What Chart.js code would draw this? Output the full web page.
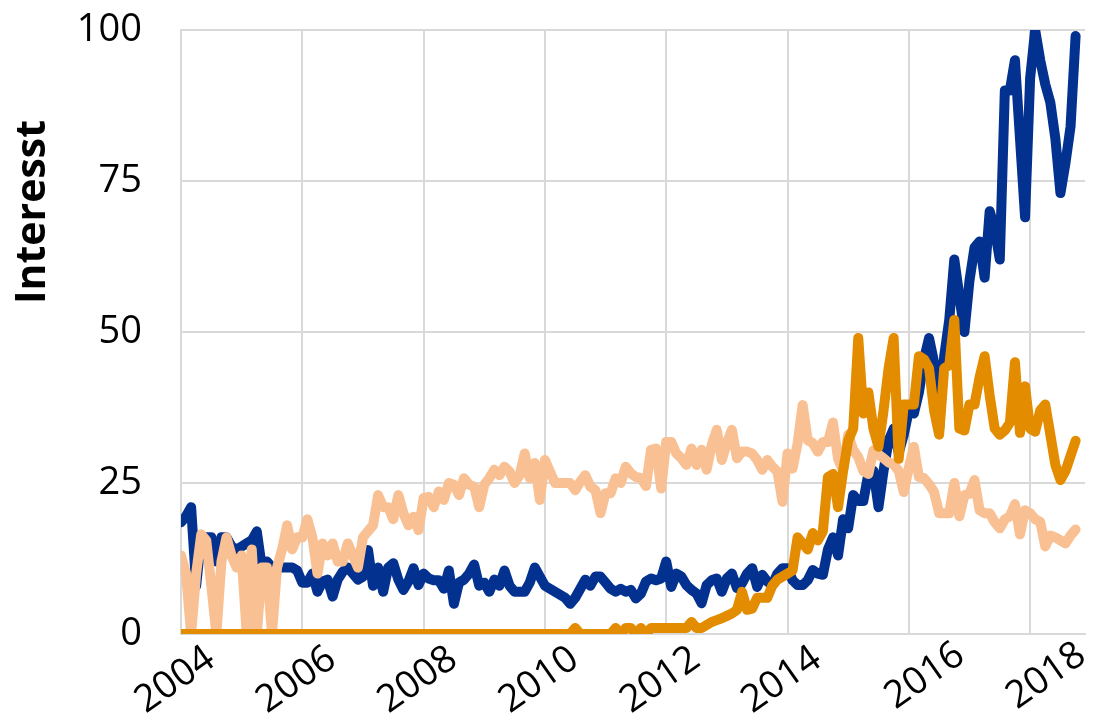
<!DOCTYPE html>
<html>
<head>
<meta charset="utf-8">
<script src="https://cdn.jsdelivr.net/npm/chart.js@4.4.1/dist/chart.umd.min.js"></script>
<style>
  html, body { margin: 0; padding: 0; background: #fff; }
  #wrap { width: 1095px; height: 720px; }
</style>
</head>
<body>
<div id="wrap"><canvas id="trendChart"></canvas></div>
<script>
// Monthly values, first value = Jan 2004
var startYear = 2004;
var yearTicks = [2004, 2006, 2008, 2010, 2012, 2014, 2016, 2018];
var valueTicks = [0, 25, 50, 75, 100];
var yTitle = 'Interesst';

var blueSeries = [
  18.5, 19.5, 21, 8, 16, 16, 16, 12, 16, 16, 14.5, 14,
  14.5, 15, 15.5, 17, 11, 12, 11, 11, 11, 11, 11, 10.5,
  8.5, 8.5, 10, 7, 8.7, 9, 6.2, 9, 10.3, 11, 10, 9,
  9.5, 13.9, 8, 11, 7, 11, 11.7, 9, 7.3, 8.7, 10.9, 8.1,
  10, 9.2, 8.9, 8.9, 7.5, 10.5, 5, 8.5, 9, 10, 11.5, 8,
  8.5, 7, 9, 8, 10.5, 8, 7, 7, 7, 8.5, 11, 9.5,
  8, 7.5, 7, 6.5, 6, 5, 6, 7.5, 9, 8, 9.5, 9.5,
  8.5, 7.5, 7, 7.5, 7, 7.3, 5.9, 6.7, 8.7, 9.2, 8.9, 9.2,
  12, 7.8, 10, 9.5, 8.1, 7.3, 6.7, 5.1, 8.1, 8.9, 9.2, 7,
  9.2, 10, 7.6, 8.4, 10, 10.9, 7.8, 9.8, 8.7, 8.1, 10, 10.9,
  10.9, 8.9, 8.1, 8.1, 8.9, 10.6, 10, 9.8, 14, 16, 13, 19,
  17.5, 23, 22, 22, 26.5, 27, 21, 27, 32, 34, 30, 33,
  37, 36.5, 40, 45.5, 49, 45, 34, 46, 52, 62, 56, 50,
  58.5, 64, 65, 59, 70, 67, 62, 90, 90, 95, 82, 69,
  92, 100, 95, 91, 88, 82, 73, 78, 84, 99
];

var orangeSeries = [
  0, 0, 0, 0, 0, 0, 0, 0, 0, 0, 0, 0,
  0, 0, 0, 0, 0, 0, 0, 0, 0, 0, 0, 0,
  0, 0, 0, 0, 0, 0, 0, 0, 0, 0, 0, 0,
  0, 0, 0, 0, 0, 0, 0, 0, 0, 0, 0, 0,
  0, 0, 0, 0, 0, 0, 0, 0, 0, 0, 0, 0,
  0, 0, 0, 0, 0, 0, 0, 0, 0, 0, 0, 0,
  0, 0, 0, 0, 0, 0, 1, 0, 0, 0, 0, 0,
  0, 0, 1, 0, 1, 1, 0, 1, 0, 1, 1, 1,
  1, 1, 1, 1, 1, 2, 1, 1, 1.5, 2, 2.3, 2.6,
  3, 3.4, 4, 7, 4, 4.2, 6, 6, 6, 8, 9, 9.5,
  10, 10.5, 16, 15, 14, 16.7, 15.5, 17, 26, 26.5, 21, 27,
  32, 34, 49, 36.5, 40, 34, 31, 37, 44, 49, 29, 38,
  38, 38, 46, 45.5, 44, 37, 33, 44, 44.5, 52, 34, 33.7,
  38, 38, 42.5, 46, 39.5, 34, 33, 33.7, 35, 45, 33.3, 41,
  34, 33.5, 37, 38, 33, 28, 25.5, 27, 29.5, 32
];

var peachSeries = [
  13, 10, 0, 10, 16.5, 15.5, 8, 0, 12, 16, 13, 11,
  13, 0, 14, 0, 11, 11, 0, 11, 14, 18, 14, 16,
  16, 19, 16, 10, 15, 13, 15, 12, 12, 15, 13, 11,
  16, 17, 18, 23, 21, 21, 19, 23, 20, 18, 19.4, 17.2,
  22.5, 22.7, 21, 23.6, 22.2, 25, 24.7, 23, 25.8, 24.7, 24.4, 21,
  24.7, 25.8, 27.2, 26.3, 27.7, 26.9, 25, 26.3, 29.9, 25.8, 28.3, 22.2,
  28.8, 26.9, 25, 25, 25, 25, 23.8, 25.2, 26.3, 24.4, 23.8, 20,
  23.3, 23.3, 25.8, 25, 27.7, 26.6, 26, 25.8, 24.5, 30.5, 30.7, 24.1,
  31.8, 31.8, 29.9, 29.1, 28, 30.7, 28, 30.5, 27.2, 31.3, 33.8, 28.8,
  31.6, 33.8, 29.1, 30.2, 30.2, 29.9, 28.8, 27.2, 28.8, 27.7, 26.9, 21.9,
  29.9, 27.4, 31.6, 37.9, 32.1, 31.6, 30.2, 31.8, 31.8, 35, 29, 27,
  33, 30.5, 29.3, 27, 26.5, 30.4, 29.7, 29.1, 28.4, 28.1, 27, 23.5,
  27.5, 31, 26, 25.8, 24.8, 23.5, 20, 20, 20, 25, 19.5, 23,
  23.2, 25.5, 20.5, 20, 20, 18.5, 17.5, 19, 19.5, 21.5, 16.5, 20.5,
  20, 19, 18.6, 14.5, 16.3, 16, 15.5, 15, 16.3, 17.3
];

function toPoints(values) {
  return values.map(function (v, i) {
    return { x: startYear + i / 12, y: v };
  });
}

var gridColor = '#d9d9d9';

// rotated year labels and the vertical axis title
var axisText = {
  id: 'axisText',
  afterDraw: function (chart) {
    var ctx = chart.ctx;
    var xs = chart.scales.x;
    ctx.save();
    ctx.fillStyle = '#000';
    ctx.font = '38px "Open Sans"';
    ctx.textAlign = 'right';
    ctx.textBaseline = 'alphabetic';
    yearTicks.forEach(function (year) {
      var late = year >= 2016;
      var px = xs.getPixelForValue(year) + (late ? 58 : 36);
      var py = xs.top + (late ? 26 : 30);
      ctx.save();
      ctx.translate(px, py);
      ctx.rotate(-35 * Math.PI / 180);
      ctx.fillText(String(year), 0, 0);
      ctx.restore();
    });
    ctx.font = 'bold 41px "Open Sans"';
    ctx.textAlign = 'center';
    ctx.translate(45, 212);
    ctx.rotate(-Math.PI / 2);
    ctx.fillText(yTitle, 0, 0);
    ctx.restore();
  }
};

var ctx = document.getElementById('trendChart').getContext('2d');

var trendChart = new Chart(ctx, {
  type: 'line',
  data: {
    datasets: [
      { label: 'Reihe 1', data: toPoints(blueSeries), borderColor: '#03318f', order: 3 },
      { label: 'Reihe 2', data: toPoints(peachSeries), borderColor: '#f9c193', order: 2 },
      { label: 'Reihe 3', data: toPoints(orangeSeries), borderColor: '#e38c00', order: 1 }
    ]
  },
  options: {
    responsive: true,
    maintainAspectRatio: false,
    animation: false,
    layout: { padding: { top: 30, right: 10, left: 0, bottom: 0 } },
    elements: {
      point: { radius: 0 },
      line: { borderWidth: 10, tension: 0, borderJoinStyle: 'round', borderCapStyle: 'round', fill: false }
    },
    plugins: { legend: { display: false }, tooltip: { enabled: false } },
    scales: {
      x: {
        type: 'linear',
        min: 2004,
        max: 2018.905,
        afterBuildTicks: function (scale) {
          scale.ticks = yearTicks.map(function (v) { return { value: v }; });
        },
        afterFit: function (scale) {
          scale.height = 86;
          scale.paddingLeft = 0;
          scale.paddingRight = 0;
        },
        ticks: { display: false },
        grid: { color: gridColor, lineWidth: 2, drawTicks: false },
        border: { color: gridColor, width: 2 }
      },
      y: {
        min: 0,
        max: 100,
        afterBuildTicks: function (scale) {
          scale.ticks = valueTicks.map(function (v) { return { value: v }; });
        },
        afterFit: function (scale) {
          scale.width = 181;
          scale.paddingTop = 0;
          scale.paddingBottom = 0;
        },
        ticks: {
          color: '#000',
          padding: 39,
          font: { family: 'Open Sans', size: 38 }
        },
        grid: { color: gridColor, lineWidth: 2, drawTicks: false },
        border: { color: gridColor, width: 2 }
      }
    }
  },
  plugins: [axisText]
});
</script>
</body>
</html>
